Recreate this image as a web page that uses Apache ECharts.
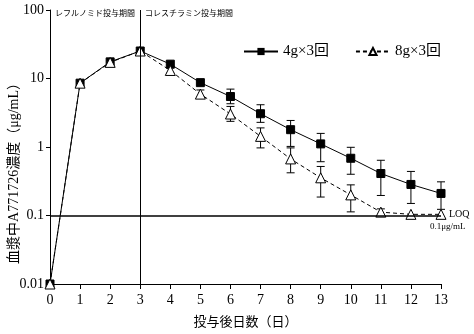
<!DOCTYPE html>
<html><head><meta charset="utf-8">
<script src="https://cdn.jsdelivr.net/npm/echarts@6/dist/echarts.min.js"></script>
<style>html,body{margin:0;padding:0;background:#fff}#c{width:474px;height:334px}</style>
</head><body><div id="c"></div>
<script>
const days = [0,1,2,3,4,5,6,7,8,9,10,11,12,13];
const g4 = [0.01,8.55,17.5,25.2,16.2,8.7,5.46,3.06,1.79,1.11,0.685,0.41,0.284,0.21];
const g4Low = [null,null,null,null,null,null,4.28,2.29,1.02,0.61,0.40,0.196,0.15,0.123];
const g4High = [null,null,null,null,null,null,7.0,4.14,2.44,1.58,0.99,0.64,0.44,0.31];
const g8 = [0.01,8.55,17.2,25.2,13.1,5.92,3.03,1.43,0.67,0.355,0.20,0.112,0.104,0.104];
const g8Low = [null,null,null,null,12.0,5.35,2.37,0.97,0.42,0.186,0.113,0.098,null,null];
const g8High = [null,null,null,null,14.3,6.8,3.91,1.9,0.97,0.52,0.28,0.125,null,null];
const yTicks = [0.01,0.1,1,10,100];
const names = ['4g×3回','8g×3回'];
const LOQ = 0.1;
const switchDay = 3;

const FF = '"Liberation Serif","Noto Sans CJK JP",serif';
const chart = echarts.init(document.getElementById('c'));

function errData(lo, hi){
  const out=[];
  days.forEach((d,i)=>{ if(lo[i]!=null) out.push([d,lo[i],hi[i]]); });
  return out;
}
function errSeries(lo,hi){
  return {
    type:'custom', silent:true, z:1,
    data: errData(lo,hi),
    renderItem:(params,api)=>{
      const x=api.value(0);
      const p1=api.coord([x,api.value(1)]);
      const p2=api.coord([x,api.value(2)]);
      const w=4;
      const st={stroke:'#000',lineWidth:1};
      return {type:'group',children:[
        {type:'line',shape:{x1:p1[0],y1:p1[1],x2:p2[0],y2:p2[1]},style:st},
        {type:'line',shape:{x1:p1[0]-w,y1:p1[1],x2:p1[0]+w,y2:p1[1]},style:st},
        {type:'line',shape:{x1:p2[0]-w,y1:p2[1],x2:p2[0]+w,y2:p2[1]},style:st}
      ]};
    }
  };
}

chart.setOption({
  animation:false,
  textStyle:{fontFamily:FF,color:'#000'},
  grid:{left:50,right:33,top:10,bottom:49},
  legend:{
    top:39,left:238,itemGap:26,itemWidth:34,itemHeight:9,
    textStyle:{fontFamily:FF,fontSize:15,color:'#000'},
    data:[{name:names[0]},{name:names[1]}]
  },
  xAxis:{
    type:'value',min:0,max:13,interval:1,
    axisLine:{lineStyle:{color:'#000',width:1}},
    axisTick:{show:true,length:5,lineStyle:{color:'#000'}},
    axisLabel:{fontFamily:FF,fontSize:14,color:'#000',margin:9},
    splitLine:{show:false},
    name:'投与後日数（日）',nameLocation:'middle',nameGap:32,
    nameTextStyle:{fontFamily:FF,fontSize:13,color:'#000'}
  },
  yAxis:{
    type:'log',logBase:10,min:0.01,max:100,
    axisLine:{show:true,lineStyle:{color:'#000',width:1}},
    axisTick:{show:true,length:4,lineStyle:{color:'#000'}},
    axisLabel:{fontFamily:FF,fontSize:14,color:'#000',margin:6,
      formatter:v=>{const t=yTicks.find(k=>Math.abs(k-v)/k<1e-6);return t!=null?String(t):'';}},
    splitLine:{show:false},minorTick:{show:false}
  },
  series:[
    {
      name:names[0],type:'line',z:3,
      data:days.map((d,i)=>[d,g4[i]]),
      symbol:'rect',symbolSize:8,
      lineStyle:{color:'#000',width:1},
      itemStyle:{color:'#000',borderColor:'#000'},
      markLine:{
        silent:true,symbol:'none',animation:false,
        label:{show:false},
        data:[
          [{coord:[switchDay,0.01],lineStyle:{color:'#000',width:1,type:'solid'}},{coord:[switchDay,100]}],
          [{coord:[0,LOQ],lineStyle:{color:'#000',width:1.6,type:'solid'}},{coord:[13,LOQ]}]
        ]
      }
    },
    {
      name:names[1],type:'line',z:4,
      data:days.map((d,i)=>[d,g8[i]]),
      symbol:'triangle',symbolSize:10,
      lineStyle:{color:'#000',width:1,type:[4,3]},
      itemStyle:{color:'#fff',borderColor:'#000',borderWidth:1}
    },
    errSeries(g4Low,g4High),
    errSeries(g8Low,g8High)
  ],
  graphic:[
    {type:'text',left:55,top:10,style:{text:'レフルノミド投与期間',font:'8px '+FF,fill:'#000'}},
    {type:'text',left:145,top:10,style:{text:'コレスチラミン投与期間',font:'8px '+FF,fill:'#000'}},
    {type:'text',left:449,top:209,style:{text:'LOQ',font:'10px '+FF,fill:'#000'}},
    {type:'text',left:430,top:222,style:{text:'0.1μg/mL',font:'9px '+FF,fill:'#000'}},
    {type:'text',x:14,y:170,rotation:Math.PI/2,
      style:{text:'血漿中A771726濃度（μg/mL）',font:'14px '+FF,fill:'#000',align:'center',verticalAlign:'middle'}}
  ]
});
</script></body></html>
